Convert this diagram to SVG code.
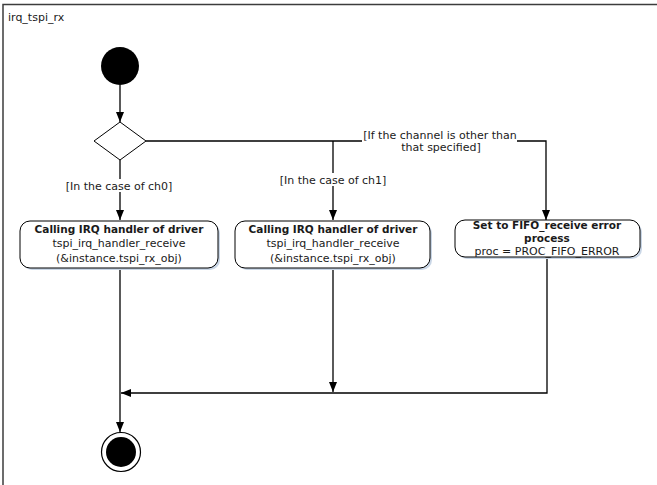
<svg xmlns="http://www.w3.org/2000/svg" width="657" height="485" viewBox="0 0 657 485">
<defs>
<marker id="ah" markerWidth="10" markerHeight="8" refX="10" refY="4" orient="auto" markerUnits="userSpaceOnUse">
<path d="M0,0 L10,4 L0,8 z" fill="#000"/>
</marker>
<style>
text{font-family:"DejaVu Sans",Verdana,sans-serif;font-size:11px;fill:#1a1a1a}
.b{font-weight:bold;font-size:10.5px}
.c{text-anchor:middle}
.ln{fill:none;stroke:#000;stroke-width:1.3}
.box{fill:#fff;stroke:#000;stroke-width:1}
.sh{fill:#c9d6e6}
.lbg{fill:#fff}
</style>
</defs>
<rect width="657" height="485" fill="#fff"/>
<g id="frame">
<rect x="3" y="4.5" width="700" height="600" fill="none" stroke="#3c3c3c" stroke-width="1.5"/>
<text x="8" y="21">irq_tspi_rx</text>
</g>
<g id="connectors">
<path class="ln" d="M120,85 V122" marker-end="url(#ah)"/>
<path class="ln" d="M120,160 V220" marker-end="url(#ah)"/>
<path class="ln" d="M146,141 H546 V220" marker-end="url(#ah)"/>
<path class="ln" d="M333,141 V220" marker-end="url(#ah)"/>
<path class="ln" d="M120,268 V432" marker-end="url(#ah)"/>
<path class="ln" d="M333,268 V392" marker-end="url(#ah)"/>
<path class="ln" d="M547,257 V393 H121" marker-end="url(#ah)"/>
<rect class="lbg" x="63" y="179" width="112" height="13"/>
<text class="c" x="119" y="190">[In the case of ch0]</text>
<rect class="lbg" x="278" y="173" width="110" height="13"/>
<text class="c" x="333" y="184">[In the case of ch1]</text>
<rect class="lbg" x="362" y="128" width="155" height="26"/>
<text class="c" x="440" y="139">[If the channel is other than</text>
<text class="c" x="441" y="151">that specified]</text>
</g>
<g id="start">
<circle cx="120" cy="66" r="19" fill="#000"/>
</g>
<g id="decision">
<polygon points="120,122 146,141 120,160 94,141" fill="#fff" stroke="#000" stroke-width="1"/>
</g>
<g id="box1">
<rect class="sh" x="22" y="223" width="198" height="47" rx="10"/>
<rect class="box" x="20" y="221" width="198" height="47" rx="10"/>
<text class="c b" x="119" y="233">Calling IRQ handler of driver</text>
<text class="c" x="119" y="247">tspi_irq_handler_receive</text>
<text class="c" x="119" y="262">(&amp;instance.tspi_rx_obj)</text>
</g>
<g id="box2">
<rect class="sh" x="237" y="223" width="195" height="47" rx="10"/>
<rect class="box" x="235" y="221" width="195" height="47" rx="10"/>
<text class="c b" x="333" y="233">Calling IRQ handler of driver</text>
<text class="c" x="333" y="247">tspi_irq_handler_receive</text>
<text class="c" x="333" y="262">(&amp;instance.tspi_rx_obj)</text>
</g>
<g id="box3">
<rect class="sh" x="457" y="222" width="185" height="37" rx="10"/>
<rect class="box" x="455" y="220" width="185" height="37" rx="10"/>
<text class="c b" x="547" y="229">Set to FIFO_receive error</text>
<text class="c b" x="547" y="242">process</text>
<text class="c" x="547" y="255">proc = PROC_FIFO_ERROR</text>
</g>
<g id="end">
<circle cx="121" cy="452" r="19.5" fill="#fff" stroke="#000" stroke-width="1.2"/>
<circle cx="121" cy="452" r="15" fill="#000"/>
</g>
</svg>
